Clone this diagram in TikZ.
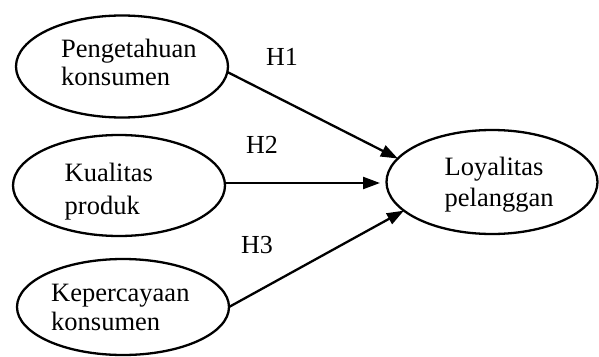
\documentclass[tikz,border=0pt]{standalone}
\usepackage{fontspec}
\setmainfont{Liberation Serif}
\usetikzlibrary{arrows.meta,shapes.geometric}

\tikzset{
  construct/.style={ellipse, draw, line width=2.3pt, inner sep=0pt, outer sep=0pt},
  caption/.style={anchor=base west, inner sep=0pt, font=\fontsize{26.5}{30}\selectfont},
  link/.style={line width=2.3pt, -{Triangle[length=17pt,width=12pt]}},
  hyp/.style={anchor=base west, inner sep=0pt, font=\fontsize{26}{30}\selectfont}
}

\begin{document}
\begin{tikzpicture}[x=1pt,y=-1pt]
  \useasboundingbox (0,0) rectangle (599,356);

  % latent variables
  \node[construct, minimum width=212pt, minimum height=102pt] (e1) at (122,66.5) {};
  \node[construct, minimum width=212pt, minimum height=101pt] (e2) at (119,185.5) {};
  \node[construct, minimum width=212pt, minimum height=96pt]  (e3) at (123,307) {};
  \node[construct, minimum width=211pt, minimum height=104pt] (e4) at (492,182) {};

  % variable names, one node per line
  \node[caption] (t1a) at (61,57.3)    {Pengetahuan};
  \node[caption] (t1b) at (61,85.3)    {konsumen};
  \node[caption] (t2a) at (64.5,181)   {Kualitas};
  \node[caption] (t2b) at (64.5,214)   {produk};
  \node[caption] (t3a) at (51,301.5)   {Kepercayaan};
  \node[caption] (t3b) at (51,330)     {konsumen};
  \node[caption] (t4a) at (444.5,175)  {Loyalitas};
  \node[caption] (t4b) at (444.5,206.5){pelanggan};

  % hypothesised paths
  \coordinate (h2end) at (380,183);
  \draw[link] (e1.-3) -- (e4.166);
  \draw[link] (e2.east |- h2end) -- (h2end);
  \draw[link] (e3.0) -- (e4.198);

  % hypothesis labels
  \node[hyp] (h1) at (266,65) {H1};
  \node[hyp] (h2) at (246,153) {H2};
  \node[hyp] (h3) at (241,253) {H3};
\end{tikzpicture}
\end{document}
